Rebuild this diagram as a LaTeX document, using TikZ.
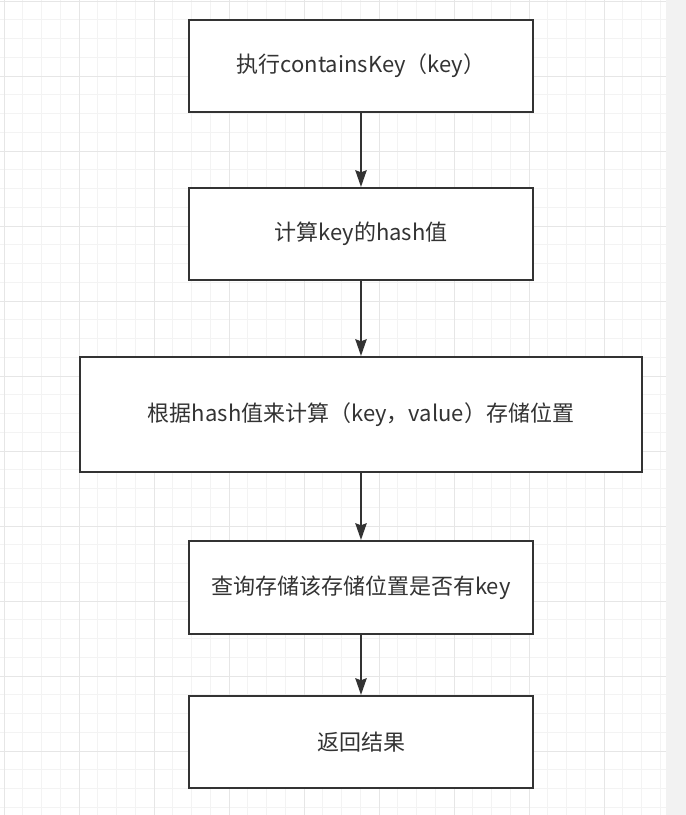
\documentclass[tikz,border=0pt]{standalone}
\usepackage{fontspec}
\setmainfont{Noto Sans CJK SC}
\usetikzlibrary{arrows.meta}
\definecolor{gridminor}{HTML}{F3F3F3}
\definecolor{gridmajor}{HTML}{E6E6E6}
\definecolor{strip}{HTML}{F2F2F2}
\definecolor{ink}{HTML}{333333}
\tikzset{
  stepbox/.style={draw=ink, line width=1.6pt, fill=white, inner sep=0pt, text=ink,
    font=\fontsize{16.5pt}{19pt}\selectfont, minimum width=258pt, minimum height=69pt},
  flowarrow/.style={draw=ink, line width=1.5pt, -{Stealth[length=12.5pt, width=8.5pt, inset=1.5pt]}}
}
\begin{document}
\begin{tikzpicture}[x=0.75pt, y=-0.75pt]
\useasboundingbox (0,0) rectangle (686,815);
\fill[white] (0,0) rectangle (686,815);
\fill[strip] (666,0) rectangle (686,815);
% grid
\foreach \i in {0,...,35} {
  \pgfmathsetmacro{\xx}{4+18.75*\i}
  \draw[gridminor, line width=0.75pt] (\xx,0) -- (\xx,815);
}
\foreach \j in {0,...,43} {
  \pgfmathsetmacro{\yy}{1+18.75*\j}
  \draw[gridminor, line width=0.75pt] (0,\yy) -- (666,\yy);
}
\foreach \i in {0,...,8} {
  \pgfmathsetmacro{\xx}{4+75*\i}
  \draw[gridmajor, line width=0.75pt] (\xx,0) -- (\xx,815);
}
\foreach \j in {0,...,10} {
  \pgfmathsetmacro{\yy}{1+75*\j}
  \draw[gridmajor, line width=0.75pt] (0,\yy) -- (666,\yy);
}
% boxes
\node[stepbox] (b1) at (361,66) {执行containsKey（key）};
\node[stepbox] (b2) at (361,234) {计算key的hash值};
\node[stepbox, minimum width=421.5pt, minimum height=86.25pt] (b3) at (361,414.5) {根据hash值来计算（key，value）存储位置};
\node[stepbox, minimum height=69.75pt] (b4) at (361,587.5) {查询存储该存储位置是否有key};
\node[stepbox] (b5) at (361,742) {返回结果};
% arrows
\draw[flowarrow] (b1.south) -- (b2.north);
\draw[flowarrow] (b2.south) -- (b3.north);
\draw[flowarrow] (b3.south) -- (b4.north);
\draw[flowarrow] (b4.south) -- (b5.north);
\end{tikzpicture}
\end{document}
